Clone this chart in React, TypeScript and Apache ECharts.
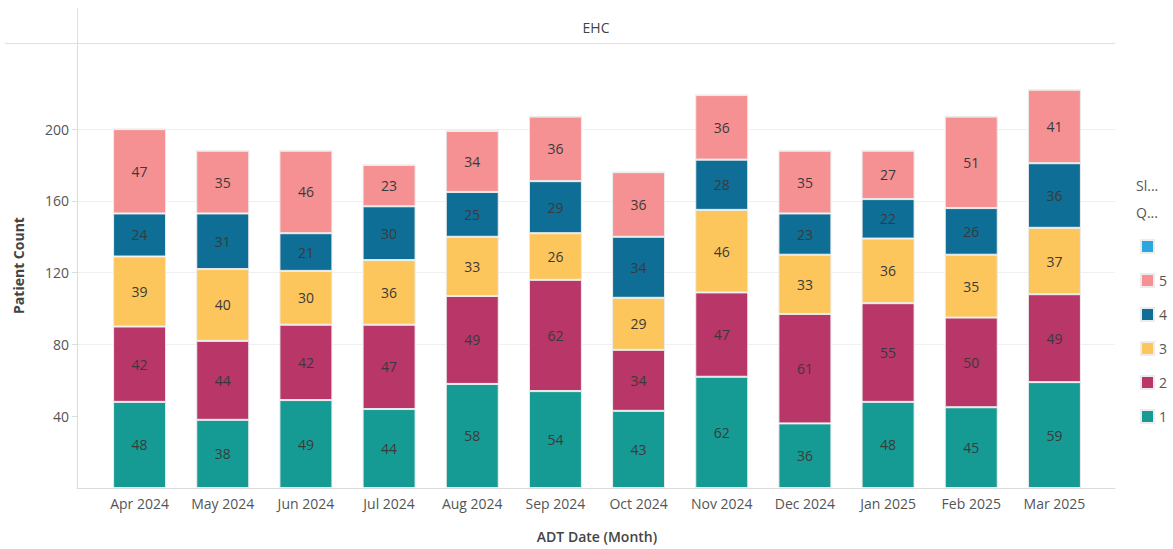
import React, { useEffect, useRef } from "react";
import * as echarts from "echarts";

const months = ["Apr 2024", "May 2024", "Jun 2024", "Jul 2024", "Aug 2024", "Sep 2024", "Oct 2024", "Nov 2024", "Dec 2024", "Jan 2025", "Feb 2025", "Mar 2025"];
const s1 = [48, 38, 49, 44, 58, 54, 43, 62, 36, 48, 45, 59];
const s2 = [42, 44, 42, 47, 49, 62, 34, 47, 61, 55, 50, 49];
const s3 = [39, 40, 30, 36, 33, 26, 29, 46, 33, 36, 35, 37];
const s4 = [24, 31, 21, 30, 25, 29, 34, 28, 23, 22, 26, 36];
const s5 = [47, 35, 46, 23, 34, 36, 36, 36, 35, 27, 51, 41];
const sBlank = [0, 0, 0, 0, 0, 0, 0, 0, 0, 0, 0, 0];
const yTicks = [40, 80, 120, 160, 200];

const FONT = "'Open Sans', 'Noto Sans', sans-serif";

export default function App() {
  const ref = useRef<HTMLDivElement>(null);
  useEffect(() => {
    if (!ref.current) return;
    const chart = echarts.init(ref.current, null, { renderer: "svg" });
    const lbl = {
      show: true,
      position: "inside",
      color: "#3a3a3a",
      fontSize: 14,
      fontFamily: FONT,
    };
    const mk = (name: string, data: number[], color: string, showLabel = true) => ({
      name,
      type: "bar",
      stack: "total",
      xAxisIndex: 1,
      yAxisIndex: 1,
      barWidth: 53,
      data,
      itemStyle: { color, borderColor: "#ececec", borderWidth: 1 },
      label: showLabel ? lbl : { show: false },
      emphasis: { disabled: true },
    });
    chart.setOption({
      animation: false,
      textStyle: { fontFamily: FONT },
      grid: [
        { left: 77, right: 58, top: 43, bottom: 61 },
        { left: 98, width: 998, top: 43, bottom: 61 },
      ],
      xAxis: [
        {
          gridIndex: 0,
          type: "value",
          min: 0,
          max: 1,
          axisLine: { show: true, lineStyle: { color: "#dcdcdc" } },
          axisTick: { show: false },
          axisLabel: { show: false },
          splitLine: { show: false },
        },
        {
          gridIndex: 1,
          type: "category",
          data: months,
          axisLine: { show: false },
          axisTick: { show: false },
          axisLabel: { color: "#555", fontSize: 14, margin: 8, fontFamily: FONT },
          name: "ADT Date (Month)",
          nameLocation: "middle",
          nameGap: 41,
          nameTextStyle: { color: "#444", fontSize: 14, fontWeight: 600, fontFamily: FONT },
        },
      ],
      yAxis: [
        {
          gridIndex: 0,
          type: "value",
          min: 0,
          max: 248,
          interval: 40,
          axisLine: { show: true, lineStyle: { color: "#dcdcdc" } },
          axisTick: { show: true, length: 5, customValues: yTicks, lineStyle: { color: "#dcdcdc" } },
          axisLabel: {
            color: "#555",
            fontSize: 14,
            margin: 8,
            fontFamily: FONT,
            customValues: yTicks,
            formatter: (v: number) => (yTicks.includes(v) ? String(v) : ""),
          },
          splitLine: {
            show: true,
            lineStyle: { color: ["transparent", "#f0f0f0", "#f0f0f0", "#f0f0f0", "#f0f0f0", "#f0f0f0", "transparent"] },
          },
          name: "Patient Count",
          nameLocation: "middle",
          nameGap: 52,
          nameTextStyle: { color: "#444", fontSize: 14, fontWeight: 700, fontFamily: FONT },
        },
        {
          gridIndex: 1,
          type: "value",
          min: 0,
          max: 248,
          show: false,
        },
      ],
      legend: {
        orient: "vertical",
        left: 1135,
        top: 234,
        itemWidth: 13,
        itemHeight: 13,
        itemGap: 19,
        icon: "rect",
        data: [" ", "5", "4", "3", "2", "1"],
        textStyle: { color: "#555", fontSize: 14, fontFamily: FONT },
        selectedMode: false,
      },
      series: [
        mk("1", s1, "#169b94"),
        mk("2", s2, "#b83668"),
        mk("3", s3, "#fdc65c"),
        mk("4", s4, "#0f6e96"),
        mk("5", s5, "#f69193"),
        mk(" ", sBlank, "#2aa7df", false),
      ],
      graphic: [
        { type: "line", shape: { x1: 5, y1: 43.5, x2: 1115, y2: 43.5 }, style: { stroke: "#e0e0e0", lineWidth: 1 } },
        { type: "line", shape: { x1: 77.5, y1: 8, x2: 77.5, y2: 43 }, style: { stroke: "#e0e0e0", lineWidth: 1 } },
        { type: "text", x: 596, y: 27, style: { text: "EHC", fill: "#444", fontSize: 14, fontFamily: FONT, align: "center", verticalAlign: "middle" } },
        { type: "text", x: 1136, y: 185, style: { text: "Sl...", fill: "#555", fontSize: 14, fontFamily: FONT, verticalAlign: "middle" } },
        { type: "text", x: 1136, y: 212, style: { text: "Q...", fill: "#555", fontSize: 14, fontFamily: FONT, verticalAlign: "middle" } },
      ],
    });
    return () => chart.dispose();
  }, []);
  return <div ref={ref} style={{ position: "fixed", left: 0, top: 0, width: 1173, height: 549, background: "#fff" }} />;
}
